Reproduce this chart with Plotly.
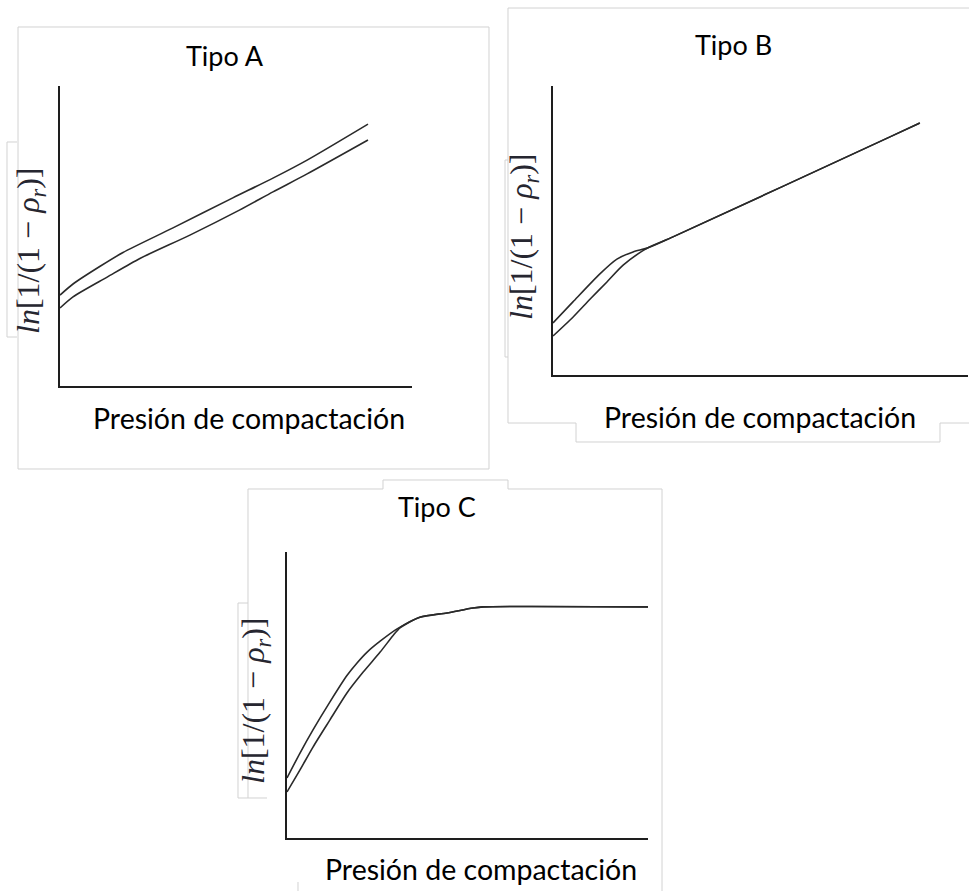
import plotly.graph_objects as go

W, H = 969, 891

# ---- data (arbitrary units 0-10) ----
a_x_upper = [0, 0.37, 1.14, 1.79, 3.21, 4.91, 6.05, 7.02, 8.75]
a_y_upper = [3.03, 3.40, 3.99, 4.45, 5.27, 6.27, 6.93, 7.53, 8.73]
a_x_lower = [0, 0.37, 1.34, 2.27, 3.69, 5.11, 6.05, 7.02, 8.75]
a_y_lower = [2.60, 2.97, 3.63, 4.25, 5.03, 5.87, 6.47, 7.07, 8.20]

b_x_upper = [0, 0.48, 1.13, 1.54, 1.93, 2.27, 2.89, 8.12, 8.84]
b_y_upper = [1.80, 2.53, 3.50, 4.01, 4.26, 4.39, 4.78, 8.24, 8.72]
b_x_lower = [0, 0.48, 0.89, 1.30, 1.69, 2.27, 2.89, 8.12, 8.84]
b_y_lower = [1.35, 2.00, 2.62, 3.22, 3.80, 4.39, 4.78, 8.24, 8.72]

c_x_upper = [0, 0.36, 0.72, 1.19, 1.66, 1.94, 2.22, 2.58, 3.05, 3.68, 4.43, 5.15, 5.43, 10]
c_y_upper = [2.10, 2.97, 3.78, 4.76, 5.68, 6.12, 6.50, 6.88, 7.31, 7.72, 7.87, 8.04, 8.08, 8.08]
c_x_lower = [0, 0.36, 0.72, 1.19, 1.66, 2.11, 2.58, 2.94, 3.13, 3.68, 4.43, 5.15, 5.43, 10]
c_y_lower = [1.61, 2.38, 3.18, 4.13, 5.07, 5.80, 6.50, 7.08, 7.35, 7.72, 7.87, 8.04, 8.08, 8.08]

titles = ["Tipo A", "Tipo B", "Tipo C"]
x_label = "Presión de compactación"
y_label = "<i>ln</i>[1/(1 − <i>ρ</i><sub><i>r</i></sub>)]"


def px(x, y):
    return x / W, 1 - y / H


fig = go.Figure()

panels = [
    ("x", "y", (60, 412), (86, 386), (a_x_upper, a_y_upper, a_x_lower, a_y_lower)),
    ("x2", "y2", (553, 968), (86, 375), (b_x_upper, b_y_upper, b_x_lower, b_y_lower)),
    ("x3", "y3", (287, 648), (552, 838), (c_x_upper, c_y_upper, c_x_lower, c_y_lower)),
]

line_style = dict(color="#2a2a2a", width=1.6, shape="spline", smoothing=0.7)

for i, (xa, ya, (x0, x1), (yt, yb), (xu, yu, xl, yl)) in enumerate(panels):
    fig.add_trace(go.Scatter(x=xu, y=yu, mode="lines", line=line_style,
                             xaxis=xa, yaxis=ya, showlegend=False, hoverinfo="skip"))
    fig.add_trace(go.Scatter(x=xl, y=yl, mode="lines", line=line_style,
                             xaxis=xa, yaxis=ya, showlegend=False, hoverinfo="skip"))
    suffix = "" if i == 0 else str(i + 1)
    ax_common = dict(range=[0, 10], showgrid=False, zeroline=False, showticklabels=False,
                     ticks="", showline=True, linecolor="#1e1e1e", linewidth=2, mirror=False,
                     fixedrange=True)
    fig.update_layout(**{
        "xaxis" + suffix: dict(domain=[x0 / W, x1 / W], anchor=ya, **ax_common),
        "yaxis" + suffix: dict(domain=[1 - yb / H, 1 - yt / H], anchor=xa, **ax_common),
    })

# ---- panel frames (light gray outlines) ----
frame = dict(color="#d2d2d2", width=1)


def path_from(points):
    s = ""
    for k, (x, y) in enumerate(points):
        X, Y = px(x, y)
        s += ("M" if k == 0 else "L") + f"{X:.5f},{Y:.5f} "
    return s


frames = [
    [(18, 27), (489, 27), (489, 469), (18, 469), (18, 27)],
    [(508, 8), (969, 8)],
    [(508, 8), (508, 423), (576, 423), (576, 442), (940, 442), (940, 423), (969, 423)],
    [(248, 489), (383, 489), (383, 480), (508, 480), (508, 489), (662, 489), (662, 891)],
    [(248, 489), (248, 798)],
    [(298, 882), (298, 891)],
    # small label boxes
    [(17, 142), (7, 142), (7, 337), (17, 337)],
    [(508, 160), (505, 160), (505, 357), (508, 357)],
    [(248, 603), (238, 603), (238, 798), (267, 798)],
]
shapes = []
for pts in frames:
    shapes.append(dict(type="path", xref="paper", yref="paper", path=path_from(pts),
                       line=frame, layer="below"))
fig.update_layout(shapes=shapes)

# ---- texts ----
ann = []
title_pos = [(225, 55), (733, 45), (437, 507)]
xlab_pos = [(249, 418), (760, 417), (481, 869)]
ylab_pos = [(31, 251), (523, 237), (255, 701)]
title_font = dict(family="Lato", size=27, color="#000000")
xlab_font = dict(family="Lato", size=28.5, color="#000000")
ylab_font = dict(family="Liberation Serif", size=32, color="#262630")

for i in range(3):
    X, Y = px(*title_pos[i])
    ann.append(dict(x=X, y=Y, xref="paper", yref="paper", text=titles[i], showarrow=False,
                    font=title_font, xanchor="center", yanchor="middle"))
    X, Y = px(*xlab_pos[i])
    ann.append(dict(x=X, y=Y, xref="paper", yref="paper", text=x_label, showarrow=False,
                    font=xlab_font, xanchor="center", yanchor="middle"))
    X, Y = px(*ylab_pos[i])
    ann.append(dict(x=X, y=Y, xref="paper", yref="paper", text=y_label, showarrow=False,
                    font=ylab_font, textangle=-90, xanchor="center", yanchor="middle"))
fig.update_layout(annotations=ann)

fig.update_layout(width=W, height=H, margin=dict(l=0, r=0, t=0, b=0),
                  paper_bgcolor="white", plot_bgcolor="white", showlegend=False)

fig.write_html("out.html", config={"displayModeBar": False})
